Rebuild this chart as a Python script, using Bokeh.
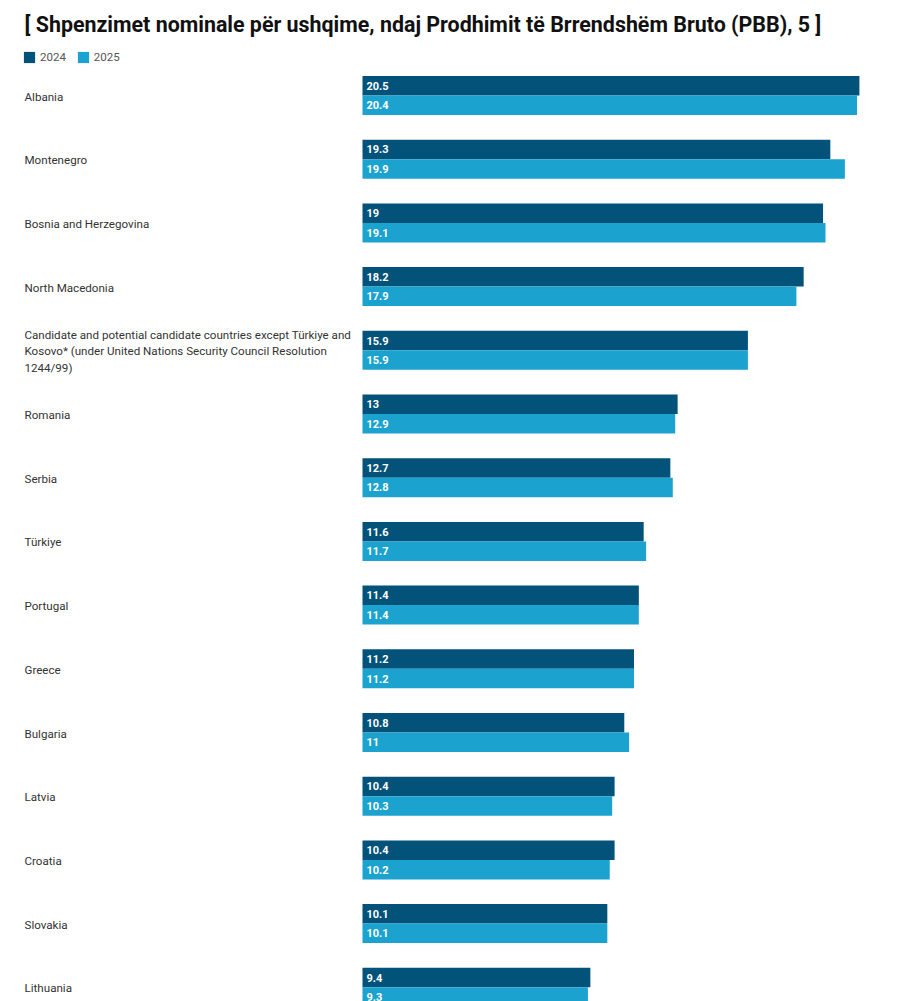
from bokeh.plotting import figure
from bokeh.models import Range1d, ColumnDataSource, Label, Legend, LegendItem
from bokeh.transform import dodge
from bokeh.core.properties import value
from bokeh.embed import file_html
from bokeh.resources import INLINE

title_text = "[ Shpenzimet nominale për ushqime, ndaj Prodhimit të Brrendshëm Bruto (PBB), 5 ]"
series_names = ["2024", "2025"]
countries = [
    "Albania",
    "Montenegro",
    "Bosnia and Herzegovina",
    "North Macedonia",
    "Candidate and potential candidate countries except Türkiye and\nKosovo* (under United Nations Security Council Resolution\n1244/99)",
    "Romania",
    "Serbia",
    "Türkiye",
    "Portugal",
    "Greece",
    "Bulgaria",
    "Latvia",
    "Croatia",
    "Slovakia",
    "Lithuania",
]
v2024 = [20.5, 19.3, 19, 18.2, 15.9, 13, 12.7, 11.6, 11.4, 11.2, 10.8, 10.4, 10.4, 10.1, 9.4]
v2025 = [20.4, 19.9, 19.1, 17.9, 15.9, 12.9, 12.8, 11.7, 11.4, 11.2, 11, 10.3, 10.2, 10.1, 9.3]

C2024 = "#03527a"
C2025 = "#1ba2cf"
FONT = "Roboto"

W, H = 900, 1001
X0_PX = 362.0          # pixel where value 0 sits
PX_PER_UNIT = 24.24
ROW0_PX = 95.0         # centre of first row
ROW_PITCH = 63.7
BAR_PX = 19.5

x_start = -X0_PX / PX_PER_UNIT
x_end = (W - X0_PX) / PX_PER_UNIT
y_top = -ROW0_PX / ROW_PITCH
y_bottom = (H - ROW0_PX) / ROW_PITCH
bar_h = BAR_PX / ROW_PITCH

idx = list(range(len(countries)))
src = ColumnDataSource(dict(
    idx=idx,
    country=countries,
    v2024=v2024,
    v2025=v2025,
    l2024=[f"{v:g}" for v in v2024],
    l2025=[f"{v:g}" for v in v2025],
    xs=[x_start] * len(idx),
))

p = figure(width=W, height=H, output_backend="svg", toolbar_location=None,
           x_range=Range1d(x_start, x_end), y_range=Range1d(y_bottom, y_top),
           x_axis_location=None, y_axis_location=None, min_border=0,
           title=None)
p.outline_line_color = None
p.grid.visible = False
p.background_fill_color = "white"
p.border_fill_color = "white"

r1 = p.hbar(y=dodge("idx", -bar_h / 2, range=p.y_range), right="v2024", left=0, height=bar_h,
            source=src, fill_color=C2024, line_color=None)
r2 = p.hbar(y=dodge("idx", bar_h / 2, range=p.y_range), right="v2025", left=0, height=bar_h,
            source=src, fill_color=C2025, line_color=None)

for col, off in (("l2024", -bar_h / 2), ("l2025", bar_h / 2)):
    p.text(x=0, y=dodge("idx", off, range=p.y_range), text=col, source=src,
           x_offset=4, text_baseline="middle", text_align="left",
           text_font=value(FONT), text_font_style="bold", text_font_size="11px",
           text_color="white")

p.text(x="xs", y="idx", text="country", source=src, x_offset=24, y_offset=1,
       text_baseline="middle", text_align="left", text_font=value(FONT),
       text_font_size="11.6px", text_color="#333333", text_line_height=1.2)

p.add_layout(Label(x=24, y=H - 24, x_units="screen", y_units="screen", text=title_text,
                   text_font=FONT, text_font_style="bold", text_font_size="21.4px",
                   text_color="#111111", text_baseline="alphabetic"))

legend = Legend(items=[LegendItem(label=series_names[0], renderers=[r1]),
                       LegendItem(label=series_names[1], renderers=[r2])],
                orientation="horizontal", location=(22, H - 64),
                glyph_width=14, glyph_height=14, label_height=14, label_width=10,
                label_standoff=4, spacing=10, padding=0, margin=0,
                label_text_font=FONT, label_text_font_size="11.5px",
                label_text_color="#555555", border_line_color=None,
                background_fill_alpha=0)
p.add_layout(legend)

open("out.html", "w").write(file_html(p, INLINE))
